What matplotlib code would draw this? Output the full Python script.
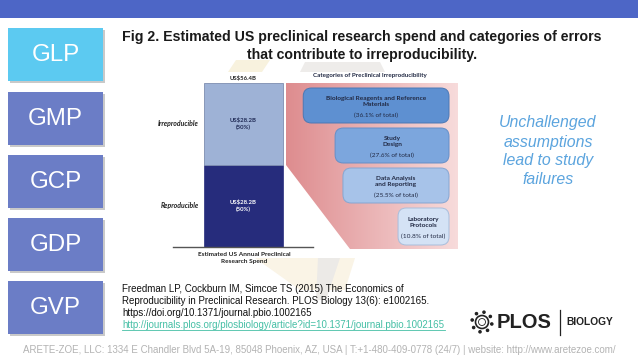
import matplotlib.pyplot as plt
import numpy as np
from matplotlib.patches import Rectangle, FancyBboxPatch, Polygon, Circle

# ---- data ----
side_labels = ['GLP', 'GMP', 'GCP', 'GDP', 'GVP']
spend_parts = [28.2, 28.2]            # reproducible, irreproducible (US$ B)
spend_names = ['Reproducible', 'Irreproducible']
spend_share = [50, 50]
spend_total = 56.4
cat_names = ['Biological Reagents and Reference\nMaterials', 'Study\nDesign',
             'Data Analysis\nand Reporting', 'Laboratory\nProtocols']
cat_pct = [36.1, 27.6, 25.5, 10.8]

W, H = 638, 359
fig = plt.figure(figsize=(W / 100, H / 100), dpi=100)
fig.patch.set_facecolor('white')


def px_axes(x0, y0, x1, y1):
    # axes placed by pixel box (top-left origin)
    return fig.add_axes([x0 / W, 1 - y1 / H, (x1 - x0) / W, (y1 - y0) / H])


bg = px_axes(0, 0, W, H)
bg.set_xlim(0, W)
bg.set_ylim(H, 0)
bg.axis('off')

rend = fig.canvas.get_renderer()


def fit(t, width):
    bb = t.get_window_extent(rend)
    t.set_fontsize(t.get_fontsize() * width / bb.width)
    return t.get_fontsize()


# faint background streaks
bg.add_patch(Polygon([(228, 72), (262, 72), (270, 60), (236, 60)], color='#f8f2de', lw=0))
bg.add_patch(Polygon([(300, 72), (385, 72), (380, 62), (305, 62)], color='#eeecea', lw=0))
bg.add_patch(Polygon([(255, 258), (355, 258), (345, 290), (300, 290)], color='#faf4e6', lw=0))
bg.add_patch(Polygon([(318, 258), (340, 258), (326, 300), (316, 300)], color='#eceae7', lw=0))
bg.add_patch(Rectangle((155, 72), 315, 186, color='white', lw=0))

# top bar
bg.add_patch(Rectangle((0, 0), W, 18, color='#4d66c6', lw=0))

# left boxes
tops = [28, 92, 155, 218, 281]
for i, lab in enumerate(side_labels):
    y0 = tops[i]
    fc = '#5ccaf1' if i == 0 else '#6b7dc6'
    bg.add_patch(Rectangle((10, y0 + 2), 95, 53, color='#c9c9c9', lw=0))
    bg.add_patch(Rectangle((8, y0), 95, 53, color=fc, lw=0))
    t = bg.text(55.5, y0 + 27, lab, color='white', ha='center', va='center',
                family='Liberation Sans', fontsize=16)
    if i == 1:
        side_fs = fit(t, 55)
for t in bg.texts:
    t.set_fontsize(side_fs)

# title
t1 = bg.text(362, 37, 'Fig 2. Estimated US preclinical research spend and categories of errors',
             ha='center', va='center', weight='bold', family='Liberation Sans', fontsize=10,
             color='#1a1a1a')
fs = fit(t1, 481)
bg.text(362, 55, 'that contribute to irreproducibility.', ha='center', va='center',
        weight='bold', family='Liberation Sans', fontsize=fs, color='#1a1a1a')

# pink panel with gradient
panel = Polygon([(286, 83), (458, 83), (458, 249), (350, 249), (286, 165)],
                closed=True, facecolor='none', edgecolor='none')
bg.add_patch(panel)
grad = np.linspace(0, 1, 256)[None, :]
c0 = np.array([0.87, 0.55, 0.56])
c1 = np.array([0.97, 0.86, 0.86])
img = c0[None, None, :] * (1 - grad[..., None]) + c1[None, None, :] * grad[..., None]
im = bg.imshow(img, extent=(286, 458, 249, 83), aspect='auto', zorder=1)
im.set_clip_path(panel)
bg.set_xlim(0, W)
bg.set_ylim(H, 0)

cf = 'Lato'
tc = '#222a44'
t = bg.text(370, 75.5, 'Categories of Preclinical Irreproducibility', ha='center', va='center',
            weight='bold', family=cf, fontsize=5, color=tc)
fit(t, 116)

# ---- stacked bar ----
ax = px_axes(173, 83, 313, 246.5)
ax.set_xlim(-0.5, 0.5)
ax.set_ylim(0, spend_total)
bar_w = 79 / 140
ax.bar(0, spend_parts[0], bar_w, color='#262c7c', edgecolor='#262c7c', lw=0.5)
ax.bar(0, spend_parts[1], bar_w, bottom=spend_parts[0], color='#9eb2d6',
       edgecolor='#7d8db0', lw=0.6)
for s in ['top', 'left', 'right']:
    ax.spines[s].set_visible(False)
ax.spines['bottom'].set_color('#555555')
ax.spines['bottom'].set_linewidth(1)
ax.set_xticks([])
ax.set_yticks([])
ax.patch.set_alpha(0)

bar_fs = None
name_fs = None
bottom = 0
for v, name, sh, col in zip(spend_parts, spend_names, spend_share, ['white', '#1f2a55']):
    mid = bottom + v / 2
    t = ax.text(0, mid, 'US$%.1fB\n(%d%%)' % (v, sh), ha='center', va='center',
                weight='bold', family=cf, fontsize=4.5, color=col, linespacing=1.3)
    if bar_fs is None:
        bar_fs = fit(t, 27)
    else:
        t.set_fontsize(bar_fs)
    t = ax.text(-0.314, mid, name, ha='right', va='center', style='italic',
                weight='bold', family=cf, fontsize=bar_fs, color='#222222')
    if name_fs is None:
        name_fs = fit(t, 38)
    else:
        t.set_fontsize(name_fs)
    bottom += v
for t in ax.texts:
    t.set_clip_on(False)
t = ax.text(0, spend_total * 1.01, 'US$%.1fB' % spend_total, ha='center', va='bottom',
            weight='bold', family=cf, fontsize=bar_fs, color='#222222', clip_on=False)
t = bg.text(244, 258, 'Estimated US Annual Preclinical\nResearch Spend', ha='center',
            va='center', weight='bold', family=cf, fontsize=4.5, color='#222222',
            linespacing=1.3)
fit(t, 92)

# ---- category boxes ----
cx = px_axes(286, 83, 458, 249)
unit = 172 / 45.9
cx.set_xlim(43.5, -2.4)
cx.set_ylim(249, 83)
cx.axis('off')
box_fc = ['#5e90d1', '#7ca6dd', '#a7c3e9', '#d4e2f5']
box_ec = ['#4b78b5', '#648fc8', '#86a6d2', '#a8bedc']
lab_fs = None
for i, (name, p) in enumerate(zip(cat_names, cat_pct)):
    y0 = 88 + 40 * i
    h = 35 if i < 3 else 37
    w = p + 2.8
    cx.add_patch(FancyBboxPatch((0, y0), w, h, boxstyle='round,pad=0,rounding_size=2.2',
                                mutation_aspect=unit, fc=box_fc[i], ec=box_ec[i], lw=0.7))
    xm = w / 2
    t = cx.text(xm, y0 + h * 0.38, name, ha='center', va='center', weight='bold',
                family=cf, fontsize=4, color=tc, linespacing=1.25)
    if lab_fs is None:
        lab_fs = fit(t, 99)
    else:
        t.set_fontsize(lab_fs)
    cx.text(xm, y0 + h * 0.78, '(%.1f%% of total)' % p, ha='center', va='center',
            family=cf, fontsize=lab_fs, color=tc)

# side comment
side_lines = ['Unchallenged', 'assumptions', 'lead to study', 'failures']
sfs = None
for k, line in enumerate(side_lines):
    t = bg.text(548, 123 + 19 * k, line, ha='center', va='center', style='italic',
                family='Liberation Sans', fontsize=11, color='#5ba4de')
    if sfs is None:
        sfs = fit(t, 97)
    else:
        t.set_fontsize(sfs)

# citation
cite = ['Freedman LP, Cockburn IM, Simcoe TS (2015) The Economics of',
        'Reproducibility in Preclinical Research. PLOS Biology 13(6): e1002165.',
        'https://doi.org/10.1371/journal.pbio.1002165']
t = bg.text(122, 289, cite[0], ha='left', va='center', family='Liberation Sans',
            fontsize=7, color='#111111')
cfs = fit(t, 283)
for k, line in enumerate(cite[1:]):
    bg.text(122, 301 + 12 * k, line, ha='left', va='center', family='Liberation Sans',
            fontsize=cfs, color='#111111')
link = 'http://journals.plos.org/plosbiology/article?id=10.1371/journal.pbio.1002165'
t = bg.text(122, 325, link, ha='left', va='center', family='Liberation Sans',
            fontsize=cfs, color='#45bfa5')
fit(t, 323)
bg.plot([122, 445], [329.5, 329.5], color='#45bfa5', lw=0.6)

# PLOS logo
bg.add_patch(Circle((482, 322), 6.5, fc='none', ec='#222222', lw=1.2))
bg.add_patch(Circle((482, 322), 3.5, fc='none', ec='#222222', lw=0.6))
for a in np.linspace(0, 2 * np.pi, 9)[:-1] + 0.2:
    bg.add_patch(Circle((482 + 10 * np.cos(a), 322 + 10 * np.sin(a)), 1.1, color='#222222'))
t = bg.text(497, 322, 'PLOS', ha='left', va='center', weight='bold',
            family='Liberation Sans', fontsize=14, color='#222222')
fit(t, 55)
bg.plot([560, 560], [310, 335], color='#222222', lw=0.9)
t = bg.text(566, 322, 'BIOLOGY', ha='left', va='center', weight='bold',
            family='Liberation Sans', fontsize=6, color='#222222')
fit(t, 47)

# footer
t = bg.text(319, 350, 'ARETE-ZOE, LLC: 1334 E Chandler Blvd 5A-19, 85048 Phoenix, AZ, USA | '
            'T:+1-480-409-0778 (24/7) | website: http://www.aretezoe.com/',
            ha='center', va='center', family='Liberation Sans', fontsize=6.5, color='#b3b3b3')
fit(t, 598)

fig.savefig('out.png', dpi=100, facecolor='white')
